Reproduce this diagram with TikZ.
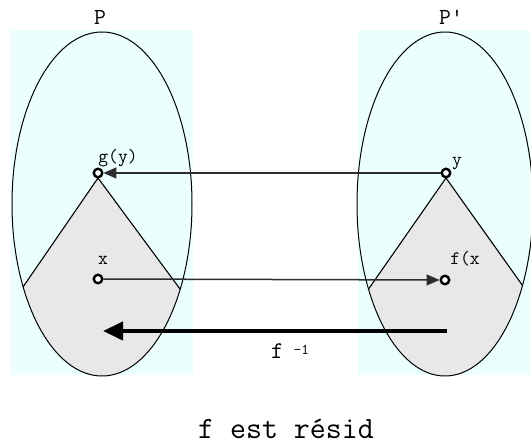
\documentclass[tikz,border=0pt]{standalone}
\usepackage{fontspec}
\definecolor{setcyan}{RGB}{235,255,255}
\definecolor{setgray}{RGB}{232,232,232}
\definecolor{mapgray}{RGB}{45,45,45}
\usetikzlibrary{arrows.meta}

\begin{document}
\begin{tikzpicture}[x=1pt,y=-1pt,
    every node/.style={font=\ttfamily,inner sep=0pt},
    elt/.style={circle,draw,line width=2.4pt,fill=white,minimum size=8.5pt},
    lbl/.style={anchor=base,font=\ttfamily\fontsize{19}{19}\selectfont},
    setname/.style={anchor=base,font=\ttfamily\fontsize{23}{23}\selectfont},
    map/.style={-{Triangle[length=13pt,width=11pt]},line width=1.5pt,mapgray},
    inv/.style={-{Triangle[length=20pt,width=18pt]},line width=4pt}]

  \useasboundingbox (0,0) rectangle (531,446);
  \fill[setcyan] (11,30) rectangle (193,375);
  \fill[setcyan] (358,30) rectangle (531,375);

  \begin{scope}
    \clip (102,204) ellipse [x radius=90,y radius=172];
    \fill[setgray] (98,178) -- (-52,396) -- (262,400) -- cycle;
    \draw[line width=1.1pt] (-52,396) -- (98,178) -- (262,400);
  \end{scope}
  \begin{scope}
    \clip (445,204) ellipse [x radius=88,y radius=172];
    \fill[setgray] (446,178) -- (294,396) -- (604,400) -- cycle;
    \draw[line width=1.1pt] (294,396) -- (446,178) -- (604,400);
  \end{scope}
  \draw[line width=1pt] (102,204) ellipse [x radius=90,y radius=172];
  \draw[line width=1pt] (445,204) ellipse [x radius=88,y radius=172];

  \node[setname] (P)  at (100,25) {P};
  \node[setname] (Pp) at (451,25) {P'};

  \node[elt] (gy) at (98,173) {};
  \node[elt] (y)  at (446,173) {};
  \node[elt] (x)  at (98,279) {};
  \node[elt] (fx) at (445,280) {};

  \node[lbl] (gylbl) at (118,163) {g(y)};
  \node[lbl] (ylbl)  at (457,166) {y};
  \node[lbl] (xlbl)  at (103,265) {x};
  \node[lbl] (fxlbl) at (465,265) {f(x};

  \draw[map] (y) -- (gy);
  \draw[map] (x) -- (fx);

  \coordinate (invs) at (447,331);
  \coordinate (inve) at (103,331);
  \draw[inv] (invs) -- (inve);
  \node[anchor=base west,font=\ttfamily\fontsize{24}{24}\selectfont] (finv)
    at (271,359) {f\hspace{10pt}\raisebox{4pt}{\fontsize{15}{15}\selectfont-1}};

  \node[anchor=base west,font=\ttfamily\fontsize{31}{31}\selectfont] (title)
    at (198,439) {f est résid};
\end{tikzpicture}
\end{document}
